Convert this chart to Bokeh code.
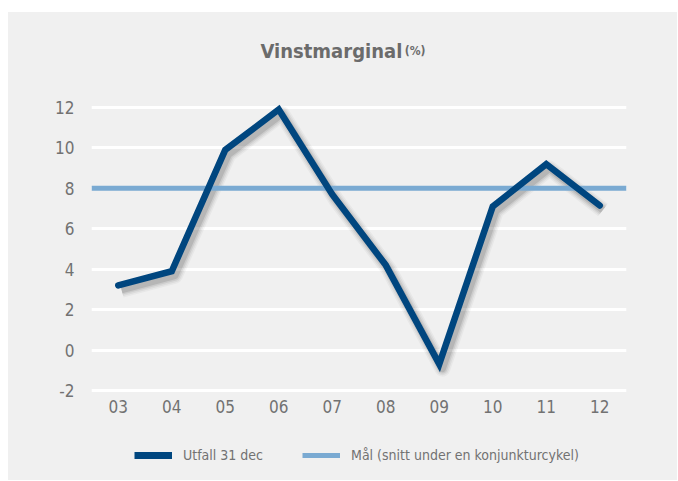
from bokeh.plotting import figure
from bokeh.models import (FactorRange, Range1d, FixedTicker, Label, Legend, LegendItem,
                          Spacer, ColumnDataSource)
from bokeh.layouts import column, row
from bokeh.transform import dodge
from bokeh.embed import file_html
from bokeh.resources import INLINE

# ---- data ----
years = ["03", "04", "05", "06", "07", "08", "09", "10", "11", "12"]
utfall = [3.2, 3.9, 9.9, 11.9, 7.7, 4.2, -0.7, 7.1, 9.2, 7.15]
target_value = 8
y_ticks = [-2, 0, 2, 4, 6, 8, 10, 12]
y_tick_labels = ["-2", "0", "2", "4", "6", "8", "10", "12"]
title_main = "Vinstmarginal"
title_unit = "(%)"
series_name = "Utfall 31 dec"
target_name = "Mål (snitt under en konjunkturcykel)"

BG = "#f0f0f0"
DARK = "#00467f"
LIGHT = "#7aaad2"
TXT = "#727272"
NARROW = "DejaVu Sans Condensed"

# ---- main chart ----
p = figure(width=669, height=418, output_backend="svg", toolbar_location=None,
           x_range=FactorRange(*years), y_range=Range1d(-2.3, 16.7),
           min_border_left=83, min_border_right=51, min_border_top=0, min_border_bottom=34)
p.background_fill_color = None
p.border_fill_color = None
p.outline_line_color = None

p.xgrid.grid_line_color = None
p.ygrid.grid_line_color = "white"
p.ygrid.grid_line_width = 3
p.yaxis.ticker = FixedTicker(ticks=y_ticks)
p.yaxis.major_label_overrides = {t: l for t, l in zip(y_ticks, y_tick_labels)}

for ax in (p.xaxis, p.yaxis):
    ax.axis_line_color = None
    ax.major_tick_line_color = None
    ax.minor_tick_line_color = None
    ax.major_tick_out = 0
    ax.major_tick_in = 0
    ax.minor_tick_out = 0
    ax.major_label_text_font = NARROW
    ax.major_label_text_font_size = "17px"
    ax.major_label_text_color = TXT
p.xaxis.major_label_standoff = 3
p.yaxis.major_label_standoff = 17

src = ColumnDataSource(dict(x=years, y=utfall))
tsrc = ColumnDataSource(dict(x=[0, len(years)], y=[target_value, target_value]))

# shadow of the main line
for w, a in [(16, 0.035), (13, 0.05), (10, 0.07), (7, 0.10)]:
    p.line(x=dodge("x", 0.06, range=p.x_range), y=dodge("y", -0.22), source=src,
           line_color="black", line_alpha=a, line_width=w, line_join="round")

p.line(x="x", y="y", source=tsrc, line_color=LIGHT, line_width=5)
p.line(x="x", y="y", source=src, line_color=DARK, line_width=6.5,
       line_join="miter", line_cap="round")

p.add_layout(Label(x=169, y=346, x_units="screen", y_units="screen", text=title_main,
                   text_font=NARROW, text_font_style="bold", text_font_size="20px",
                   text_color="#6b6b6b", text_baseline="alphabetic"))
p.add_layout(Label(x=334, y=346, x_units="screen", y_units="screen", text=title_unit,
                   text_font=NARROW, text_font_style="bold", text_font_size="12px",
                   text_color="#6b6b6b", text_baseline="alphabetic", text_align="right"))

# ---- legend strip (same series, drawn outside its visible ranges) ----
pl = figure(width=669, height=50, output_backend="svg", toolbar_location=None,
            x_range=Range1d(0, 1), y_range=Range1d(-100, -99),
            x_axis_location=None, y_axis_location=None,
            min_border_left=0, min_border_right=0, min_border_top=0, min_border_bottom=0)
pl.background_fill_color = None
pl.border_fill_color = None
pl.outline_line_color = None
pl.grid.visible = False

leg_main = pl.line(x=list(range(len(years))), y=utfall, line_color=DARK, line_width=7)
leg_target = pl.line(x=[0, len(years)], y=[target_value, target_value],
                     line_color=LIGHT, line_width=5)

legend = Legend(items=[LegendItem(label=series_name, renderers=[leg_main]),
                       LegendItem(label=target_name, renderers=[leg_target])],
                orientation="horizontal", location=(43, 16),
                glyph_width=38, glyph_height=18, label_height=18,
                label_standoff=11, spacing=39, padding=0, margin=0,
                border_line_color=None, background_fill_alpha=0,
                label_text_font=NARROW, label_text_font_size="14px",
                label_text_color=TXT)
pl.add_layout(legend, "center")

panel = column(p, pl, spacing=0, styles={"background-color": BG})
layout = row(Spacer(width=8, height=480),
             column(Spacer(width=669, height=12), panel, spacing=0), spacing=0)
open("out.html", "w").write(file_html(layout, INLINE))
